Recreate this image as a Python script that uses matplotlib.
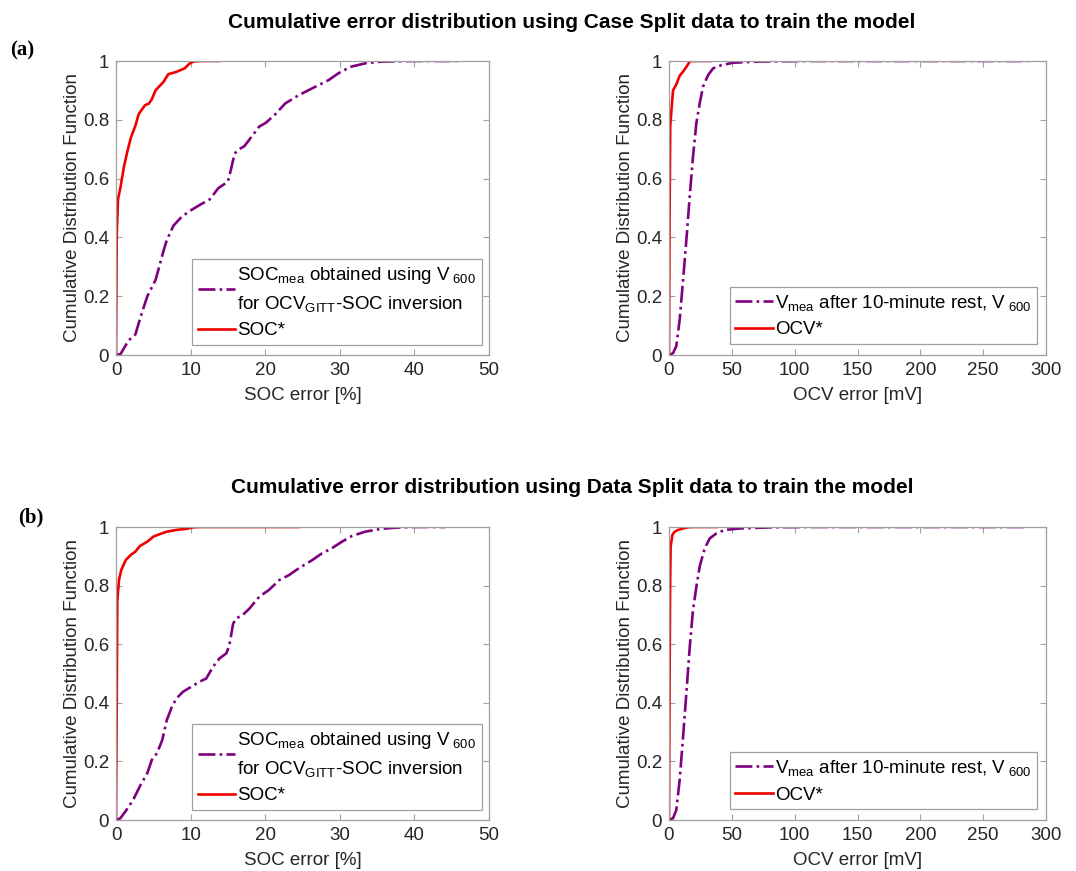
import matplotlib
matplotlib.use("Agg")
import matplotlib.pyplot as plt
from matplotlib.ticker import FuncFormatter

plt.rcParams['font.family'] = ['Liberation Sans', 'DejaVu Sans']
plt.rcParams['mathtext.fontset'] = 'custom'
plt.rcParams['mathtext.rm'] = 'Liberation Sans'
plt.rcParams['mathtext.it'] = 'Liberation Sans'
plt.rcParams['mathtext.default'] = 'regular'

# ---------------- data ----------------
# (a) Case split, SOC error [%]
a_soc_star_x = [0, 0.05, 0.1, 0.27, 0.6, 1.06, 1.5, 2.0, 2.6, 3.05, 3.9, 4.4, 4.8, 5.3, 6.4, 7.0, 8.1, 9.2, 9.9, 10.4, 11.2, 13.8]
a_soc_star_y = [0, 0.2, 0.41, 0.53, 0.57, 0.64, 0.69, 0.74, 0.78, 0.82, 0.85, 0.855, 0.87, 0.90, 0.93, 0.955, 0.963, 0.975, 0.992, 0.998, 1.0, 1.0]
a_soc_mea_x = [0, 0.6, 1.7, 2.6, 3.3, 4.2, 5.3, 5.9, 6.4, 6.8, 7.7, 8.8, 9.9, 11.2, 12.6, 13.7, 15.0, 15.4, 15.9, 16.5, 17.2, 18.1, 19.2, 20.1, 21.4, 22.7, 24.5, 26.3, 28.5, 29.8, 31.4, 33.4, 35.6, 40.0, 46.0]
a_soc_mea_y = [0, 0.003, 0.05, 0.07, 0.13, 0.20, 0.255, 0.31, 0.357, 0.39, 0.44, 0.47, 0.49, 0.51, 0.53, 0.567, 0.59, 0.63, 0.685, 0.70, 0.71, 0.74, 0.777, 0.79, 0.82, 0.856, 0.884, 0.907, 0.935, 0.958, 0.98, 0.992, 0.998, 1.0, 1.0]
# (a) Case split, OCV error [mV]
a_ocv_star_x = [0, 0.5, 1.0, 1.9, 3.2, 5.8, 8.5, 11.2, 13.8, 16.5, 17.8, 33.7]
a_ocv_star_y = [0, 0.5, 0.78, 0.83, 0.90, 0.92, 0.95, 0.964, 0.98, 0.998, 1.0, 1.0]
a_ocv_mea_x = [0, 3.2, 5.8, 8.5, 11.2, 13.8, 16.5, 19.1, 21.8, 24.4, 27.1, 31.1, 35.1, 41.7, 51, 69.6, 109, 286]
a_ocv_mea_y = [0, 0.006, 0.03, 0.12, 0.255, 0.39, 0.54, 0.675, 0.79, 0.855, 0.913, 0.952, 0.975, 0.986, 0.994, 0.998, 1.0, 1.0]
# (b) Data split, SOC error [%]
b_soc_star_x = [0, 0.08, 0.18, 0.4, 0.7, 1.3, 1.95, 2.6, 3.2, 4.2, 5.0, 5.9, 6.8, 8.1, 9.5, 10.4, 11.2, 24.5]
b_soc_star_y = [0, 0.32, 0.75, 0.82, 0.853, 0.887, 0.904, 0.916, 0.935, 0.95, 0.967, 0.976, 0.984, 0.99, 0.994, 0.999, 1.0, 1.0]
b_soc_mea_x = [0, 0.6, 1.7, 2.4, 3.3, 4.2, 4.8, 5.5, 6.2, 6.8, 7.5, 8.1, 9.0, 10.1, 11.2, 12.1, 13.0, 13.9, 14.8, 15.2, 15.7, 16.1, 17.0, 17.9, 19.2, 20.5, 21.9, 23.2, 24.5, 26.3, 27.6, 28.9, 30.3, 31.6, 33.4, 35.6, 37.8, 40.0, 44.2]
b_soc_mea_y = [0, 0.006, 0.045, 0.074, 0.12, 0.16, 0.205, 0.228, 0.273, 0.34, 0.387, 0.415, 0.438, 0.455, 0.472, 0.483, 0.523, 0.552, 0.569, 0.597, 0.67, 0.688, 0.70, 0.722, 0.762, 0.785, 0.819, 0.836, 0.859, 0.887, 0.91, 0.927, 0.95, 0.969, 0.984, 0.994, 0.998, 1.0, 1.0]
# (b) Data split, OCV error [mV]
b_ocv_star_x = [0, 0.5, 0.9, 1.3, 2.7, 4.5, 7.2, 11.2, 15.1, 19.1, 37.7]
b_ocv_star_y = [0, 0.5, 0.8, 0.933, 0.973, 0.984, 0.99, 0.995, 0.999, 1.0, 1.0]
b_ocv_mea_x = [0, 3.2, 5.8, 8.5, 11.2, 13.8, 16.5, 19.1, 21.8, 24.4, 28.4, 32.4, 37.7, 44.4, 56.3, 82.9, 109, 286]
b_ocv_mea_y = [0, 0.006, 0.034, 0.137, 0.284, 0.432, 0.59, 0.717, 0.796, 0.865, 0.927, 0.961, 0.978, 0.99, 0.995, 0.999, 1.0, 1.0]

soc_xticks = [0, 10, 20, 30, 40, 50]
ocv_xticks = [0, 50, 100, 150, 200, 250, 300]
yticks = [0, 0.2, 0.4, 0.6, 0.8, 1]

title_a = 'Cumulative error distribution using Case Split data to train the model'
title_b = 'Cumulative error distribution using Data Split data to train the model'
ylabel = 'Cumulative Distribution Function'
soc_label_mea = ('SOC$_{mea}$ obtained using V$_{\\ 600}$\n'
                 'for OCV$_{GITT}$-SOC inversion')
soc_label_star = 'SOC*'
ocv_label_mea = 'V$_{mea}$ after 10-minute rest, V$_{\\ 600}$'
ocv_label_star = 'OCV*'

# ---------------- figure ----------------
W, H = 1076, 871
fig = plt.figure(figsize=(W / 100, H / 100), dpi=100)

RED = '#f20000'
PURPLE = '#7f007f'
AXC = '#a0a0a0'
TXT = '#262626'


def px_axes(l, t, r, b):
    return fig.add_axes([l / W, 1 - b / H, (r - l) / W, (b - t) / H])


def style(ax, xticks, xlabel, xmax):
    ax.set_xlim(0, xmax)
    ax.set_ylim(0, 1)
    ax.set_xticks(xticks)
    ax.set_yticks(yticks)
    ax.yaxis.set_major_formatter(FuncFormatter(lambda v, p: '%g' % v))
    ax.tick_params(direction='in', top=True, right=True, length=4,
                   width=0.8, color=AXC, labelcolor=TXT, labelsize=13.5, pad=5)
    for s in ax.spines.values():
        s.set_color(AXC)
        s.set_linewidth(0.9)
    ax.set_xlabel(xlabel, fontsize=13.5, color=TXT, labelpad=6)
    ax.set_ylabel(ylabel, fontsize=13.5, color=TXT, labelpad=1)


def legend(ax, anchor):
    lg = ax.legend(loc='lower right', bbox_to_anchor=anchor, fontsize=13.5,
                   fancybox=False, framealpha=1, edgecolor=AXC,
                   handlelength=2.0, handletextpad=0.1, borderpad=0.3,
                   labelspacing=0.45, borderaxespad=0)
    lg.get_frame().set_linewidth(0.9)
    for t in lg.get_texts():
        t.set_color('black')
        t.set_linespacing(1.55)


lw = 1.9
# (a) left
ax = px_axes(116, 61, 489, 355)
ax.plot(a_soc_mea_x, a_soc_mea_y, color=PURPLE, ls='-.', lw=lw, label=soc_label_mea)
ax.plot(a_soc_star_x, a_soc_star_y, color=RED, ls='-', lw=lw, label=soc_label_star)
style(ax, soc_xticks, 'SOC error [%]', 50)
legend(ax, (0.98, 0.034))

# (a) right
ax = px_axes(669, 61, 1046, 355)
ax.plot(a_ocv_mea_x, a_ocv_mea_y, color=PURPLE, ls='-.', lw=lw, label=ocv_label_mea)
ax.plot(a_ocv_star_x, a_ocv_star_y, color=RED, ls='-', lw=lw, label=ocv_label_star)
style(ax, ocv_xticks, 'OCV error [mV]', 300)
legend(ax, (0.976, 0.037))

# (b) left
ax = px_axes(116, 527, 489, 820)
ax.plot(b_soc_mea_x, b_soc_mea_y, color=PURPLE, ls='-.', lw=lw, label=soc_label_mea)
ax.plot(b_soc_star_x, b_soc_star_y, color=RED, ls='-', lw=lw, label=soc_label_star)
style(ax, soc_xticks, 'SOC error [%]', 50)
legend(ax, (0.98, 0.034))

# (b) right
ax = px_axes(669, 527, 1046, 820)
ax.plot(b_ocv_mea_x, b_ocv_mea_y, color=PURPLE, ls='-.', lw=lw, label=ocv_label_mea)
ax.plot(b_ocv_star_x, b_ocv_star_y, color=RED, ls='-', lw=lw, label=ocv_label_star)
style(ax, ocv_xticks, 'OCV error [mV]', 300)
legend(ax, (0.976, 0.037))

fig.text(572 / W, 1 - 22 / H, title_a, ha='center', va='center',
         fontsize=15, fontweight='bold', color='black')
fig.text(572 / W, 1 - 487 / H, title_b, ha='center', va='center',
         fontsize=15, fontweight='bold', color='black')
fig.text(10 / W, 1 - 50 / H, '(a)', ha='left', va='center',
         fontsize=15, fontweight='bold', family='Liberation Serif')
fig.text(18 / W, 1 - 517 / H, '(b)', ha='left', va='center',
         fontsize=15, fontweight='bold', family='Liberation Serif')

fig.savefig('out.png', dpi=100)
